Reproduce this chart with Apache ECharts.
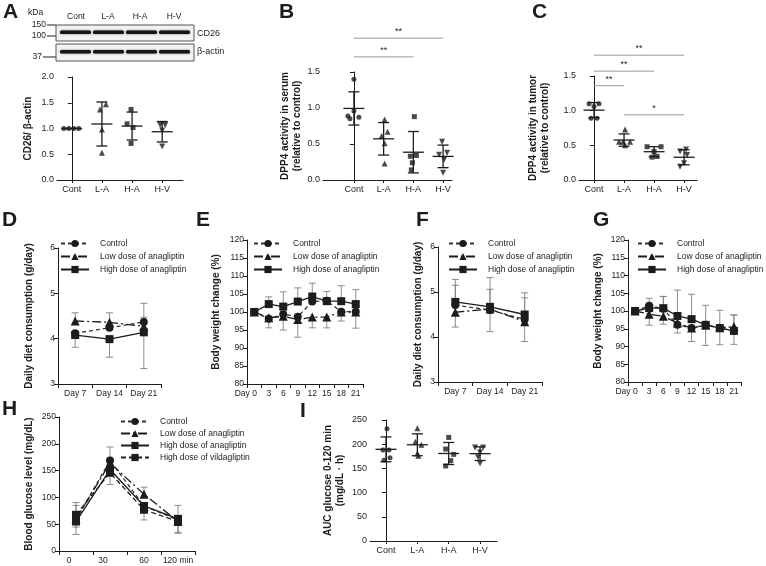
<!DOCTYPE html>
<html>
<head>
<meta charset="utf-8">
<script src="https://cdn.jsdelivr.net/npm/echarts@6/dist/echarts.min.js"></script>
<style>
  html, body { margin: 0; padding: 0; background: #fff; }
  #chart { width: 766px; height: 566px; }
</style>
</head>
<body>
<div id="chart"></div>
<script>
// ---- values ----
var groups = ['Cont', 'L-A', 'H-A', 'H-V'];

// A: CD26 / beta-actin
var cd26Cont = [1.0, 1.0, 1.0, 1.0];
var cd26LA = [1.47, 1.37, 0.98, 0.53];
var cd26HA = [1.37, 1.09, 1.02, 0.71];
var cd26HV = [1.07, 1.07, 0.96, 0.65];

// B: DPP4 activity in serum
var serumCont = [1.40, 0.96, 0.89, 0.85, 0.87];
var serumLA = [0.84, 0.67, 0.61, 0.51, 0.23];
var serumHA = [0.88, 0.33, 0.34, 0.24, 0.14];
var serumHV = [0.53, 0.38, 0.35, 0.28, 0.10];

// C: DPP4 activity in tumor
var tumorCont = [1.10, 1.10, 1.06, 0.89, 0.89];
var tumorLA = [0.73, 0.55, 0.55, 0.55, 0.50];
var tumorHA = [0.48, 0.48, 0.41, 0.33, 0.34];
var tumorHV = [0.44, 0.41, 0.36, 0.24, 0.19];

// I: AUC glucose
var aucCont = [232, 188, 188, 172, 167];
var aucLA = [233, 205, 199, 181, 176];
var aucHA = [214, 190, 179, 166, 155];
var aucHV = [193, 193, 183, 173, 160];

// significance brackets [from group, to group, height]
var sigSerum = [[0, 3, 1.97], [0, 2, 1.71]];
var sigSerumText = ['**', '**'];
var sigTumor = [[0, 3, 1.80], [0, 2, 1.57], [0, 1, 1.36], [1, 3, 0.94]];
var sigTumorText = ['**', '**', '**', '*'];

var dietDays = ['Day 7', 'Day 14', 'Day 21'];
var weightDays = ['0', '3', '6', '9', '12', '15', '18', '21'];
var glucoseTimes = ['0', '30', '60', '120 min'];

// D: daily diet (first period)
var dCtrl = [4.12, 4.24, 4.37], dCtrlUp = [0, 0, 0.41], dCtrlDn = [0, 0, 0];
var dLow = [4.39, 4.36, 4.27], dLowUp = [0.18, 0.21, 0.20], dLowDn = [0, 0, 0];
var dHigh = [4.08, 3.99, 4.14], dHighUp = [0, 0, 0], dHighDn = [0.27, 0.40, 0.80];

// E: body weight (first period)
var eCtrl = [100, 98.1, 99.4, 98.7, 102.9, 103.1, 100.1, 100.1];
var eCtrlUp = [0, 0, 0, 0, 0, 2.6, 0, 0];
var eCtrlDn = [0, 2.5, 0, 0, 0, 0, 2.6, 4.6];
var eLow = [100, 98.4, 98.8, 97.9, 98.6, 98.6, 100, 100];
var eLowUp = [0, 0, 0, 0, 0, 0, 0, 0];
var eLowDn = [0, 0, 3.8, 4.9, 3.0, 3.0, 0, 0];
var eHigh = [100, 102.2, 101.5, 102.9, 104.3, 103, 103, 102.2];
var eHighUp = [0, 2.0, 4.1, 3.8, 3.7, 0, 4.3, 4.0];
var eHighDn = [0, 0, 0, 0, 0, 0, 0, 0];

// F: daily diet (second period)
var fCtrl = [4.71, 4.60, 4.39], fCtrlUp = [0.44, 0.46, 0.48], fCtrlDn = [0, 0, 0];
var fLow = [4.55, 4.62, 4.34], fLowUp = [0, 0, 0], fLowDn = [0.33, 0.50, 0.44];
var fHigh = [4.78, 4.67, 4.50], fHighUp = [0.50, 0.65, 0.48], fHighDn = [0, 0, 0];

// G: body weight (second period)
var gCtrl = [100, 101.5, 100.6, 96.1, 95.2, 96.1, 95.2, 94.4];
var gCtrlUp = [0, 2.1, 3.5, 0, 0, 5.5, 0, 0];
var gCtrlDn = [0, 0, 0, 2.3, 0, 5.8, 4.7, 0];
var gLow = [100, 99.1, 98.5, 96.6, 95.2, 96.0, 95.3, 95.6];
var gLowUp = [0, 0, 0, 0, 0, 0, 0, 3.3];
var gLowDn = [0, 3.1, 2.2, 0, 3.8, 0, 0, 5.0];
var gHigh = [100, 100.8, 100.8, 98.6, 97.7, 96.1, 95.2, 94.4];
var gHighUp = [0, 0, 3.3, 7.3, 7.0, 0, 5.0, 4.5];
var gHighDn = [0, 0, 0, 0, 0, 0, 0, 0];

// H: blood glucose
var hCtrl = [58, 169, 84, 58], hCtrlUp = [27, 25, 0, 0], hCtrlDn = [27, 0, 0, 0];
var hLow = [60, 164, 106, 55], hLowUp = [0, 0, 13, 0], hLowDn = [0, 0, 0, 22];
var hHigh = [55, 152, 84, 60], hHighUp = [0, 0, 0, 25], hHighDn = [0, 0, 0, 25];
var hVilda = [67.5, 146, 77, 55], hVildaUp = [23, 0, 0, 0], hVildaDn = [23, 22, 19, 0];

// ---- styling ----
var FONT = 'Liberation Sans';
var INK = '#1c1c1c';
var markers = ['circle', 'triangle', 'rect', 'triangle'];
var markRot = [0, 0, 0, 180];
var markSize = [5, 6, 5, 6];

// horizontal spread of the dots inside each group (pixels)
var jitA = [[-8, -3, 2, 7], [4, -2, 0, 0], [-1, -5, 1, -1], [-2, 3, 0, 0]];
var jitB = [[0, 0, -6, -4, 5], [1, 4, -2, 1, 1], [1, -3, 3, -1, -2], [-1, 4, -4, 1, 0]];
var jitC = [[-5, 5, 0, -3, 3], [1, -5, -1, 6, 1], [-7, 7, 0, -2, 3], [2, -4, 3, 0, -4]];
var jitI = [[1, -3, 3, 4, -2], [0, -2, 4, 0, 1], [0, -3, 5, 2, -3], [-5, 3, 0, -2, 0]];

var grids = [
  { left: 57, top: 77, width: 126, height: 103 },   // A
  { left: 323, top: 72, width: 129, height: 108 },  // B
  { left: 579, top: 76, width: 118, height: 104 },  // C
  { left: 58, top: 248, width: 103, height: 136 },  // D
  { left: 247, top: 240, width: 116, height: 144 }, // E
  { left: 438, top: 247, width: 104, height: 135 }, // F
  { left: 628, top: 240, width: 113, height: 142 }, // G
  { left: 59, top: 417, width: 136, height: 134 },  // H
  { left: 370, top: 420, width: 127, height: 121 }  // I
];

function meanSd(vals) {
  var m = vals.reduce(function (a, b) { return a + b; }, 0) / vals.length;
  var ss = vals.reduce(function (a, b) { return a + (b - m) * (b - m); }, 0);
  return [m, Math.sqrt(ss / (vals.length - 1))];
}

function seg(x1, y1, x2, y2, st) {
  return { type: 'line', shape: { x1: x1, y1: y1, x2: x2, y2: y2 }, style: st };
}

// mean line + SD whiskers for the dot plots
function renderMeanSd(params, api) {
  var x = api.value(0), m = api.value(1), s = api.value(2);
  var c = api.coord([x, m]);
  var t = api.coord([x, m + s])[1];
  var b = api.coord([x, m - s])[1];
  var st = { stroke: INK, lineWidth: 1.3 };
  return {
    type: 'group',
    children: [
      seg(c[0] - 10.5, c[1], c[0] + 10.5, c[1], st),
      seg(c[0], t, c[0], b, st),
      seg(c[0] - 5.5, t, c[0] + 5.5, t, st),
      seg(c[0] - 5.5, b, c[0] + 5.5, b, st)
    ]
  };
}

// grey error bars of the time courses
function renderErr(params, api) {
  var x = api.value(0), v = api.value(1), up = api.value(2), dn = api.value(3);
  var c = api.coord([x, v]);
  var st = { stroke: '#808080', lineWidth: 0.9 };
  var kids = [];
  if (up > 0) {
    var t = api.coord([x, v + up])[1];
    kids.push(seg(c[0], c[1], c[0], t, st), seg(c[0] - 3.5, t, c[0] + 3.5, t, st));
  }
  if (dn > 0) {
    var b = api.coord([x, v - dn])[1];
    kids.push(seg(c[0], c[1], c[0], b, st), seg(c[0] - 3.5, b, c[0] + 3.5, b, st));
  }
  return { type: 'group', children: kids };
}

function renderSig(texts) {
  return function (params, api) {
    var p1 = api.coord([api.value(0), api.value(2)]);
    var p2 = api.coord([api.value(1), api.value(2)]);
    return {
      type: 'group',
      children: [
        seg(p1[0], p1[1], p2[0], p2[1], { stroke: '#9a9a9a', lineWidth: 1 }),
        {
          type: 'text', x: (p1[0] + p2[0]) / 2, y: p1[1] - 2,
          style: { text: texts[params.dataIndex], fontSize: 9, fontFamily: FONT, fill: INK, align: 'center', verticalAlign: 'bottom' }
        }
      ]
    };
  };
}

function yAx(gi, min, max, step, dec, name, gap, fs) {
  return {
    gridIndex: gi, type: 'value', min: min, max: max, interval: step,
    axisLine: { show: true, lineStyle: { color: INK, width: 1 } },
    axisTick: { show: true, length: 4, lineStyle: { color: INK } },
    axisLabel: { fontSize: fs, color: INK, margin: 3, fontFamily: FONT, formatter: function (v) { return v.toFixed(dec); } },
    splitLine: { show: false },
    name: name, nameLocation: 'middle', nameRotate: 90, nameGap: gap,
    nameTextStyle: { fontSize: 10, fontWeight: 'bold', color: INK, fontFamily: FONT, lineHeight: 12 }
  };
}

function dotX(gi, min, max) {
  return {
    gridIndex: gi, type: 'value', min: min, max: max,
    axisLine: { show: true, onZero: false, lineStyle: { color: INK } },
    axisTick: { show: true, length: 3, customValues: [0, 1, 2, 3], lineStyle: { color: INK } },
    axisLabel: { customValues: [0, 1, 2, 3], fontSize: 9, color: INK, margin: 5, fontFamily: FONT,
      formatter: function (v) { return groups[Math.round(v)]; } },
    splitLine: { show: false }
  };
}

function catX(gi, cats, fmt, rich) {
  return {
    gridIndex: gi, type: 'category', data: cats, boundaryGap: true,
    axisLine: { show: true, onZero: false, lineStyle: { color: INK } },
    axisTick: { show: true, length: 4, lineStyle: { color: INK } },
    axisLabel: { fontSize: 8.5, color: INK, margin: 5, interval: 0, fontFamily: FONT, formatter: fmt, rich: rich },
    splitLine: { show: false }
  };
}

var dayZeroFmt = function (v, i) { return i === 0 ? '{s|Day 0}' : v; };
var dayZeroRich = { s: { fontSize: 8.5, color: INK, fontFamily: FONT, padding: [0, 17, 0, 0] } };
var glucoseFmt = function (v, i) { return i < 2 ? '{s|' + v + '}' : v; };
var glucoseRich = { s: { fontSize: 8.5, color: INK, fontFamily: FONT, padding: [0, 14, 0, 0] } };

function dotSeries(gi, sets, jit) {
  var out = [];
  sets.forEach(function (vals, k) {
    out.push({
      type: 'scatter', xAxisIndex: gi, yAxisIndex: gi, silent: true, z: 3,
      symbol: markers[k], symbolRotate: markRot[k], symbolSize: markSize[k],
      itemStyle: { color: INK },
      data: vals.map(function (v, j) { return { value: [k, v], symbolOffset: [jit[k][j], 0] }; })
    });
  });
  out.push({
    type: 'custom', xAxisIndex: gi, yAxisIndex: gi, silent: true, z: 2,
    renderItem: renderMeanSd, encode: { x: 0, y: 1 },
    data: sets.map(function (vals, k) { var s = meanSd(vals); return [k, s[0], s[1]]; })
  });
  return out;
}

var lineLook = {
  'Control': { symbol: 'circle', size: 8, dash: [4, 3], color: '#333' },
  'Low dose of anagliptin': { symbol: 'triangle', size: 9, dash: [9, 3, 2, 3], color: INK },
  'High dose of anagliptin': { symbol: 'rect', size: 8, dash: 'solid', color: INK },
  'High dose of vildagliptin': { symbol: 'rect', size: 8, dash: [5, 3], color: INK }
};

function lineSeries(gi, name, vals, up, dn) {
  var look = lineLook[name];
  return [
    {
      type: 'line', name: name, xAxisIndex: gi, yAxisIndex: gi, silent: true, z: 3,
      data: vals, symbol: look.symbol, symbolSize: look.size, showSymbol: true,
      lineStyle: { color: look.color, width: 1.3, type: look.dash },
      itemStyle: { color: INK }
    },
    {
      type: 'custom', xAxisIndex: gi, yAxisIndex: gi, silent: true, z: 2,
      renderItem: renderErr, encode: { x: 0, y: 1 },
      data: vals.map(function (v, i) { return [i, v, up[i], dn[i]]; })
    }
  ];
}

var names3 = ['Control', 'Low dose of anagliptin', 'High dose of anagliptin'];
function legendAt(left, top, names, gap) {
  return {
    left: left, top: top, orient: 'vertical', data: names, padding: 0,
    itemWidth: 28, itemHeight: 9, itemGap: gap, selectedMode: false,
    formatter: function (n) { return '{t|' + n + '}'; },
    textStyle: { fontSize: 8.5, color: INK, fontFamily: FONT,
      rich: { t: { fontSize: 8.5, color: INK, fontFamily: FONT, padding: [0, 0, 0, 6] } } }
  };
}

function txt(s, x, y, size, weight, align, vAlign) {
  return {
    type: 'text', x: x, y: y, silent: true,
    style: { text: s, fontSize: size, fontWeight: weight || 'normal', fontFamily: FONT, fill: INK,
      align: align || 'left', verticalAlign: vAlign || 'top' }
  };
}
function gline(x1, y1, x2, y2) {
  return { type: 'line', silent: true, shape: { x1: x1, y1: y1, x2: x2, y2: y2 }, style: { stroke: INK, lineWidth: 1 } };
}

// western blot of panel A
var lanes = [60, 93, 126, 159];
var graphics = [
  txt('A', 3, 2, 21, 'bold'), txt('B', 279, 2, 21, 'bold'), txt('C', 532, 2, 21, 'bold'),
  txt('D', 2, 210, 21, 'bold'), txt('E', 196, 210, 21, 'bold'), txt('F', 416, 210, 21, 'bold'),
  txt('G', 593, 210, 21, 'bold'), txt('H', 2, 399, 21, 'bold'), txt('I', 300, 401, 21, 'bold'),
  txt('kDa', 28, 13, 8.5, 'normal', 'left', 'middle'),
  txt('Cont', 76, 17, 8.5, 'normal', 'center', 'middle'),
  txt('L-A', 108, 17, 8.5, 'normal', 'center', 'middle'),
  txt('H-A', 140, 17, 8.5, 'normal', 'center', 'middle'),
  txt('H-V', 174, 17, 8.5, 'normal', 'center', 'middle'),
  txt('150', 46, 25, 8.5, 'normal', 'right', 'middle'),
  txt('100', 46, 36, 8.5, 'normal', 'right', 'middle'),
  txt('37', 42, 57, 8.5, 'normal', 'right', 'middle'),
  gline(47, 25, 56, 25), gline(47, 36, 56, 36), gline(43, 57, 56, 57),
  { type: 'rect', silent: true, shape: { x: 56, y: 25, width: 138, height: 16 }, style: { fill: '#f3f3f3', stroke: '#555', lineWidth: 1 } },
  { type: 'rect', silent: true, shape: { x: 56, y: 44, width: 138, height: 17 }, style: { fill: '#f3f3f3', stroke: '#555', lineWidth: 1 } },
  txt('CD26', 197, 34, 9, 'normal', 'left', 'middle'),
  txt('β-actin', 197, 52, 9, 'normal', 'left', 'middle')
];
lanes.forEach(function (x) {
  graphics.push({ type: 'rect', silent: true, shape: { x: x, y: 30.5, width: 31, height: 3.5, r: 1.5 },
    style: { fill: '#151515', shadowBlur: 2, shadowColor: 'rgba(0,0,0,0.6)' } });
  graphics.push({ type: 'rect', silent: true, shape: { x: x, y: 50, width: 31, height: 3.5, r: 1.5 },
    style: { fill: '#151515', shadowBlur: 2, shadowColor: 'rgba(0,0,0,0.6)' } });
});

var series = [].concat(
  dotSeries(0, [cd26Cont, cd26LA, cd26HA, cd26HV], jitA),
  dotSeries(1, [serumCont, serumLA, serumHA, serumHV], jitB),
  dotSeries(2, [tumorCont, tumorLA, tumorHA, tumorHV], jitC),
  dotSeries(8, [aucCont, aucLA, aucHA, aucHV], jitI),
  [
    { type: 'custom', xAxisIndex: 1, yAxisIndex: 1, silent: true, clip: false, renderItem: renderSig(sigSerumText), encode: { x: [0, 1], y: 2 }, data: sigSerum },
    { type: 'custom', xAxisIndex: 2, yAxisIndex: 2, silent: true, clip: false, renderItem: renderSig(sigTumorText), encode: { x: [0, 1], y: 2 }, data: sigTumor }
  ],
  lineSeries(3, 'Control', dCtrl, dCtrlUp, dCtrlDn),
  lineSeries(3, 'Low dose of anagliptin', dLow, dLowUp, dLowDn),
  lineSeries(3, 'High dose of anagliptin', dHigh, dHighUp, dHighDn),
  lineSeries(4, 'Control', eCtrl, eCtrlUp, eCtrlDn),
  lineSeries(4, 'Low dose of anagliptin', eLow, eLowUp, eLowDn),
  lineSeries(4, 'High dose of anagliptin', eHigh, eHighUp, eHighDn),
  lineSeries(5, 'Control', fCtrl, fCtrlUp, fCtrlDn),
  lineSeries(5, 'Low dose of anagliptin', fLow, fLowUp, fLowDn),
  lineSeries(5, 'High dose of anagliptin', fHigh, fHighUp, fHighDn),
  lineSeries(6, 'Control', gCtrl, gCtrlUp, gCtrlDn),
  lineSeries(6, 'Low dose of anagliptin', gLow, gLowUp, gLowDn),
  lineSeries(6, 'High dose of anagliptin', gHigh, gHighUp, gHighDn),
  lineSeries(7, 'Control', hCtrl, hCtrlUp, hCtrlDn),
  lineSeries(7, 'Low dose of anagliptin', hLow, hLowUp, hLowDn),
  lineSeries(7, 'High dose of anagliptin', hHigh, hHighUp, hHighDn),
  lineSeries(7, 'High dose of vildagliptin', hVilda, hVildaUp, hVildaDn)
);

var chart = echarts.init(document.getElementById('chart'));
chart.setOption({
  animation: false,
  backgroundColor: '#fff',
  textStyle: { fontFamily: FONT },
  grid: grids.map(function (g) { return Object.assign({ containLabel: false, outerBoundsMode: 'none' }, g); }),
  xAxis: [
    dotX(0, -0.49, 3.69), dotX(1, -1.04, 3.30), dotX(2, -0.5, 3.43),
    catX(3, dietDays), catX(4, weightDays, dayZeroFmt, dayZeroRich),
    catX(5, dietDays), catX(6, weightDays, dayZeroFmt, dayZeroRich),
    catX(7, glucoseTimes, glucoseFmt, glucoseRich),
    dotX(8, -0.51, 3.54)
  ],
  yAxis: [
    yAx(0, 0, 2, 0.5, 1, 'CD26/ β-actin', 23, 9),
    yAx(1, 0, 1.5, 0.5, 1, 'DPP4 activity in serum\n(relative to control)', 18, 9),
    yAx(2, 0, 1.5, 0.5, 1, 'DPP4 activity in tumor\n(relative to control)', 28, 9),
    yAx(3, 3, 6, 1, 0, 'Daily diet consumption (g/day)', 23, 8.5),
    yAx(4, 80, 120, 5, 0, 'Body weight change (%)', 25, 8.5),
    yAx(5, 3, 6, 1, 0, 'Daily diet consumption (g/day)', 14, 8.5),
    yAx(6, 80, 120, 5, 0, 'Body weight change (%)', 24, 8.5),
    yAx(7, 0, 250, 50, 0, 'Blood glucose level (mg/dL)', 24, 8.5),
    yAx(8, 0, 250, 50, 0, 'AUC glucose 0-120 min\n(mg/dL · h)', 24, 9)
  ],
  legend: [
    legendAt(60, 239, names3, 4),
    legendAt(253, 239, names3, 4),
    legendAt(448, 239, names3, 4),
    legendAt(637, 239, names3, 4),
    legendAt(120, 417, names3.concat(['High dose of vildagliptin']), 3)
  ],
  graphic: graphics,
  series: series
});
</script>
</body>
</html>
